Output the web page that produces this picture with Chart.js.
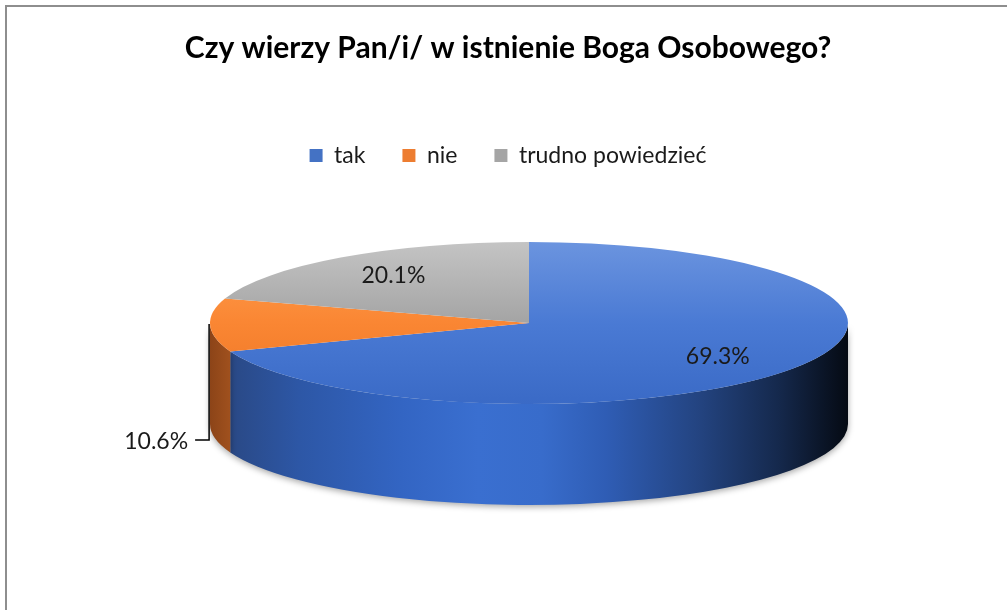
<!DOCTYPE html>
<html>
<head>
<meta charset="utf-8">
<script src="https://cdn.jsdelivr.net/npm/chart.js@4.4.1/dist/chart.umd.min.js"></script>
<style>
  html, body { margin: 0; padding: 0; background: #fff; }
  #wrap { position: relative; width: 1007px; height: 610px; overflow: hidden; }
  #frame { position: absolute; left: 5px; top: 5px; width: 1100px; height: 700px;
           border-left: 2px solid #8e8e8e; border-top: 2px solid #8e8e8e; box-sizing: border-box; }
  #c { position: absolute; left: 0; top: 0; }
</style>
</head>
<body>
<div id="wrap">
  <div id="frame"></div>
  <canvas id="c" width="1007" height="610"></canvas>
</div>
<script>
// ---- data ----
const titleText = 'Czy wierzy Pan/i/ w istnienie Boga Osobowego?';
const categories = ['tak', 'nie', 'trudno powiedzieć'];
const values = [69.3, 10.6, 20.1];
const valueLabels = ['69.3%', '10.6%', '20.1%'];

// ---- styles ----
const FONT = 'Lato, "Open Sans", "DejaVu Sans", sans-serif';
const legendColors = ['#4472C4', '#ED7D31', '#A5A5A5'];
const topStops = [
  [[0, '#6B94DF'], [0.5, '#4A7AD4'], [1, '#3A6AC6']],
  [[0, '#FFA152'], [0.5, '#FA8633'], [1, '#EC7524']],
  [[0, '#C4C4C4'], [0.5, '#A4A4A4'], [1, '#959595']]
];
const sideStops = [
  [[0, '#263F73'], [0.04, '#2A4A88'], [0.14, '#2D57A6'], [0.3, '#3365C3'], [0.42, '#3A6FD0'],
   [0.52, '#386CCB'], [0.62, '#2F5DB5'], [0.77, '#23437F'], [0.89, '#15294D'], [1, '#050A13']],
  [[0, '#8C4418'], [0.04, '#A5541F'], [1, '#A5541F']],
  [[0, '#7A7A7A'], [1, '#7A7A7A']]
];
const PIE = { radius: 319, tilt: 0.254, depth: 101, shiftX: 21, labelFrac: 0.72 };

function ellipseGeom(chart) {
  const ca = chart.chartArea;
  const cx = (ca.left + ca.right) / 2 + PIE.shiftX;
  const rx = PIE.radius;
  const ry = rx * PIE.tilt;
  const cy = ca.bottom - PIE.depth - ry;
  return { cx, cy, rx, ry, depth: PIE.depth, elX: (ca.left + ca.right) / 2, elY: (ca.top + ca.bottom) / 2 };
}

function topColor(ctx) {
  const chart = ctx.chart;
  const i = ctx.dataIndex;
  if (!chart.chartArea || i === undefined) return legendColors[i] || legendColors[0];
  const ca = chart.chartArea;
  const yc = (ca.top + ca.bottom) / 2;
  const g = chart.ctx.createLinearGradient(0, yc - PIE.radius, 0, yc + PIE.radius);
  topStops[i].forEach(s => g.addColorStop(s[0], s[1]));
  return g;
}

const TWO_PI = Math.PI * 2;
function frontSegments(a0, a1) {
  const segs = [];
  for (let k = -2; k <= 2; k++) {
    const lo = k * TWO_PI, hi = k * TWO_PI + Math.PI;
    const s = Math.max(a0, lo), e = Math.min(a1, hi);
    if (e > s) segs.push([s, e]);
  }
  return segs;
}

const pie3d = {
  id: 'pie3d',
  beforeDatasetsDraw(chart) {
    const ctx = chart.ctx;
    const g = ellipseGeom(chart);
    const meta = chart.getDatasetMeta(0);
    ctx.save();
    meta.data.forEach((arc, i) => {
      frontSegments(arc.startAngle, arc.endAngle).forEach(([s, e]) => {
        const grad = ctx.createLinearGradient(g.cx - g.rx, 0, g.cx + g.rx, 0);
        sideStops[i].forEach(st => grad.addColorStop(st[0], st[1]));
        ctx.beginPath();
        ctx.ellipse(g.cx, g.cy, g.rx, g.ry, 0, s, e, false);
        ctx.lineTo(g.cx + g.rx * Math.cos(e), g.cy + g.ry * Math.sin(e) + g.depth);
        ctx.ellipse(g.cx, g.cy + g.depth, g.rx, g.ry, 0, e, s, true);
        ctx.closePath();
        ctx.shadowColor = 'rgba(0,0,0,0.35)';
        ctx.shadowBlur = 6;
        ctx.shadowOffsetY = 2;
        ctx.fillStyle = grad;
        ctx.fill();
      });
    });
    ctx.restore();
    ctx.save();
    ctx.translate(g.cx, g.cy);
    ctx.scale(1, PIE.tilt);
    ctx.translate(-g.elX, -g.elY);
  },
  afterDatasetsDraw(chart) {
    const ctx = chart.ctx;
    ctx.restore();
    const g = ellipseGeom(chart);
    const meta = chart.getDatasetMeta(0);
    ctx.save();
    ctx.font = '23px ' + FONT;
    ctx.fillStyle = '#1a1a1a';
    meta.data.forEach((arc, i) => {
      const m = (arc.startAngle + arc.endAngle) / 2;
      if (i === 1) {
        const ax = g.cx + g.rx * Math.cos(m) - 1;
        const ay = g.cy + g.ry * Math.sin(m) - 1;
        const by = ay + g.depth + 15;
        ctx.strokeStyle = '#000';
        ctx.lineWidth = 1.5;
        ctx.beginPath();
        ctx.moveTo(ax, ay);
        ctx.lineTo(ax, by);
        ctx.lineTo(ax - 14, by);
        ctx.stroke();
        ctx.textAlign = 'right';
        ctx.textBaseline = 'middle';
        ctx.fillText(valueLabels[i], ax - 21, by + 2);
      } else {
        const x = g.cx + g.rx * PIE.labelFrac * Math.cos(m);
        const y = g.cy + g.ry * PIE.labelFrac * Math.sin(m);
        ctx.textAlign = 'center';
        ctx.textBaseline = 'middle';
        ctx.fillText(valueLabels[i], x, y);
      }
    });
    ctx.restore();
  }
};

new Chart(document.getElementById('c'), {
  type: 'pie',
  data: {
    labels: categories,
    datasets: [{
      data: values,
      backgroundColor: topColor,
      borderWidth: 0,
      hoverOffset: 0
    }]
  },
  options: {
    responsive: false,
    animation: false,
    events: [],
    radius: PIE.radius,
    rotation: 0,
    layout: { padding: { left: 9, right: 0, top: 0, bottom: 105 } },
    plugins: {
      title: {
        display: true,
        text: titleText,
        color: '#000',
        font: { family: FONT, size: 30, weight: 'bold', lineHeight: 1.2 },
        padding: { top: 30, bottom: 41 }
      },
      legend: {
        display: true,
        position: 'top',
        labels: {
          color: '#1a1a1a',
          font: { family: FONT, size: 23 },
          boxWidth: 13,
          boxHeight: 13,
          padding: 37,
          generateLabels(chart) {
            const items = Chart.overrides.pie.plugins.legend.labels.generateLabels(chart);
            return items.map((it, i) => Object.assign(it, {
              fillStyle: legendColors[i], strokeStyle: legendColors[i], lineWidth: 0
            }));
          }
        }
      },
      tooltip: { enabled: false }
    }
  },
  plugins: [pie3d]
});
</script>
</body>
</html>
